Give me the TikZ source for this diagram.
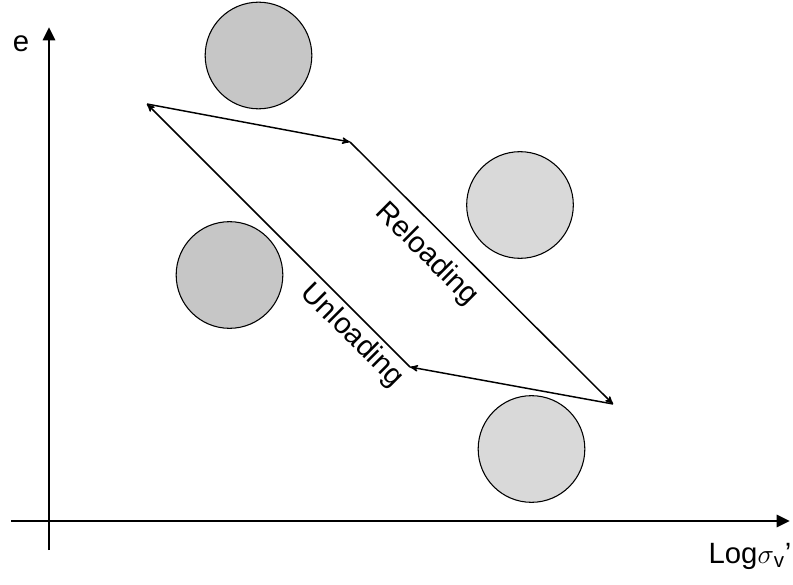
\documentclass[tikz,border=0pt]{standalone}
\usepackage{fontspec}
\setmainfont{Liberation Sans}
\usetikzlibrary{arrows,arrows.meta,positioning}
\tikzset{
	>=stealth',
}
\begin{document}
\begin{tikzpicture}[x=0.75pt, y=-0.75pt,
	axis/.style = {line width=2.2pt, -{Triangle[length=10pt, width=9pt]}},
	grain/.style = {circle, draw, line width=0.8pt, minimum size=80pt, inner sep=0},
	cycleline/.style = {line width=1.1pt},
	lbl/.style = {font=\fontsize{22}{26}\selectfont}]
\useasboundingbox (0,0) rectangle (793,585);
% axes
\coordinate (ybot) at (49,550);
\coordinate (ytop) at (49,27);
\coordinate (xleft) at (11,521);
\coordinate (xright) at (790,521);
\draw[axis] (ybot) -- (ytop);
\draw[axis] (xleft) -- (xright);
\node[lbl] (elabel) at (21,44) {e};
\node[lbl] (xlabel) at (750,556) {Log$\sigma$\textsubscript{v}'};
% grains
\node[grain, fill=gray!45] (grainTop) at (258.5,55.5) {};
\node[grain, fill=gray!30] (grainRight) at (520,205) {};
\node[grain, fill=gray!45] (grainLeft) at (229.5,275) {};
\node[grain, fill=gray!30] (grainLow) at (531.5,449) {};
% loading cycle
\coordinate (unloadend) at (147,104);
\coordinate (reloadstart) at (350,142);
\coordinate (reloadend) at (613,404);
\coordinate (unloadstart) at (410,367);
\draw[cycleline, ->] (unloadend) -- (reloadstart);
\draw[cycleline, ->] (reloadstart) -- node[lbl, sloped, below=5pt, pos=0.36] (reloadlabel) {Reloading} (reloadend);
\draw[cycleline, ->] (reloadend) -- (unloadstart);
\draw[cycleline, <-] (unloadend) -- node[lbl, sloped, below, pos=0.83] (unloadlabel) {Unloading} (unloadstart);
\end{tikzpicture}
\end{document}
